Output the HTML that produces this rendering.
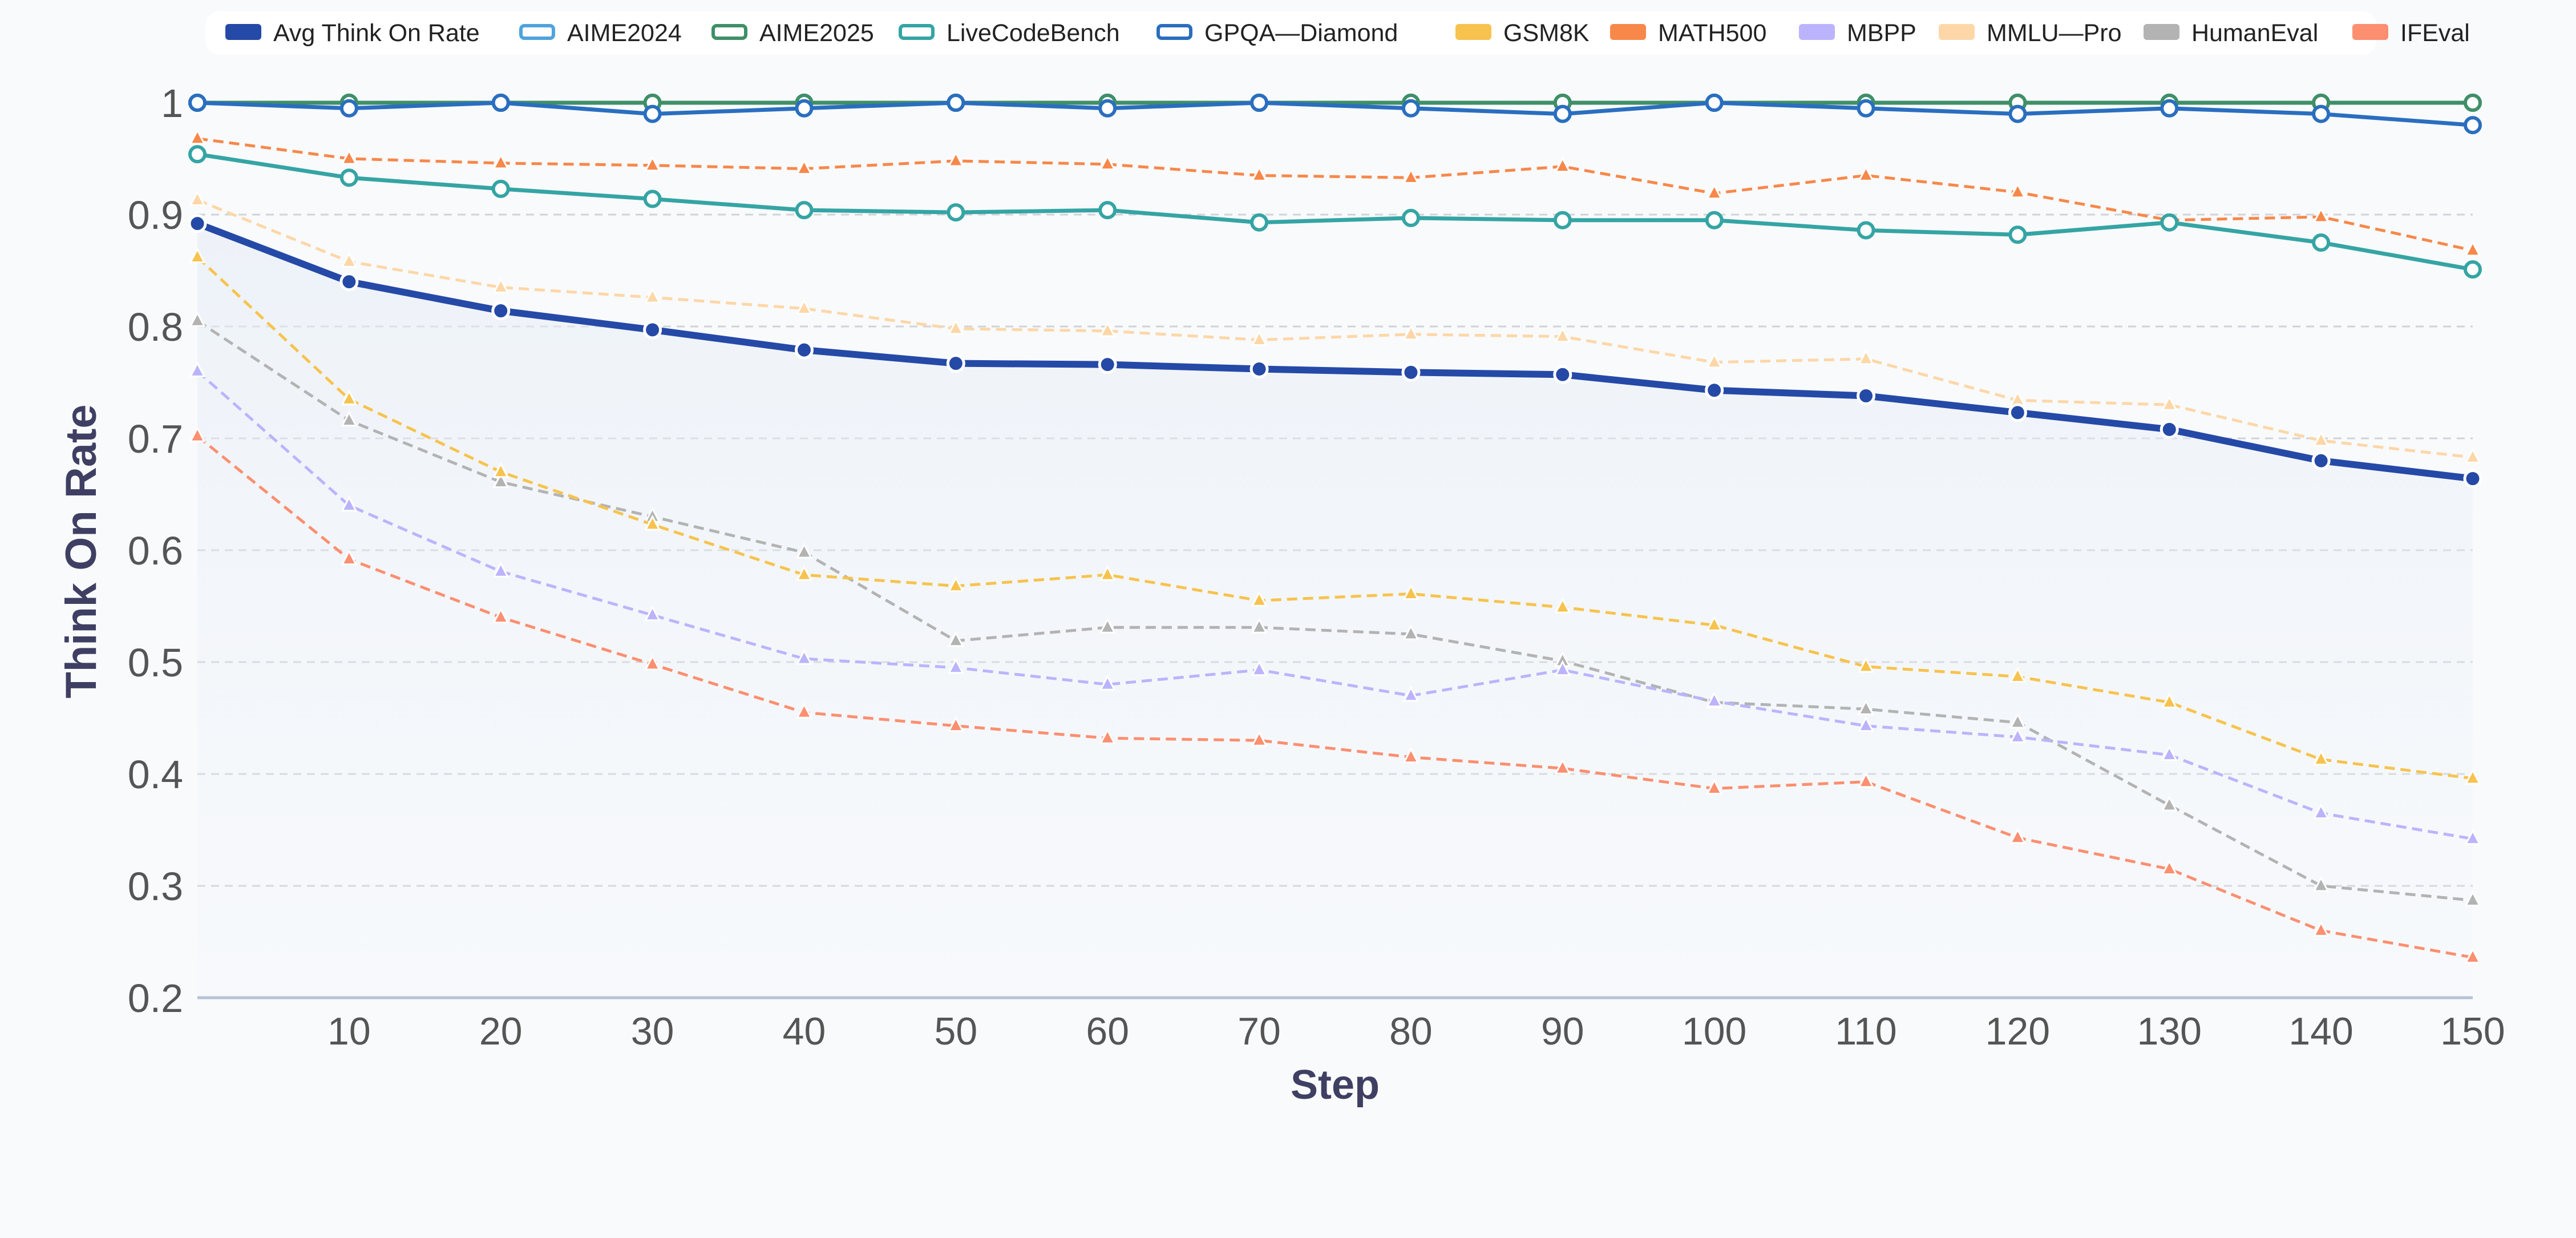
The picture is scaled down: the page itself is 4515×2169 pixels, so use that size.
<!DOCTYPE html>
<html><head><meta charset="utf-8"><style>
html,body{margin:0;padding:0;background:#f8fafc;}
svg{display:block;font-family:"Liberation Sans",sans-serif;}
</style></head><body>
<svg id="chart" width="4515" height="2169" viewBox="0 0 4515 2169" xmlns="http://www.w3.org/2000/svg">
<defs><linearGradient id="areaGrad" x1="0" y1="0" x2="0" y2="1"><stop offset="0" stop-color="#e6edf6" stop-opacity="0.6"/><stop offset="1" stop-color="#eef2f8" stop-opacity="0.1"/></linearGradient></defs>
<rect x="0" y="0" width="4515" height="2169" fill="#f8fafc"/>
<g id="grid"></g><g id="area"></g><g id="series"></g><g id="axes"></g><g id="legend"></g>
</svg>
<script>
const steps = [0,10,20,30,40,50,60,70,80,90,100,110,120,130,140,150];
const xTicks = [10,20,30,40,50,60,70,80,90,100,110,120,130,140,150];
const yTicks = [0.2,0.3,0.4,0.5,0.6,0.7,0.8,0.9,1];
const yTickLabels = ["0.2","0.3","0.4","0.5","0.6","0.7","0.8","0.9","1"];
const seriesNames = ["Avg Think On Rate","AIME2024","AIME2025","LiveCodeBench","GPQA—Diamond","GSM8K","MATH500","MBPP","MMLU—Pro","HumanEval","IFEval"];
const avgVals = [0.892,0.840,0.814,0.797,0.779,0.767,0.766,0.762,0.759,0.757,0.743,0.738,0.723,0.708,0.680,0.664];
const aime2024Vals = [1,1,1,1,1,1,1,1,1,1,1,1,1,1,1,1];
const aime2025Vals = [1,1,1,1,1,1,1,1,1,1,1,1,1,1,1,1];
const lcbVals = [0.954,0.933,0.923,0.914,0.904,0.902,0.904,0.893,0.897,0.895,0.895,0.886,0.882,0.893,0.875,0.851];
const gpqaVals = [1,0.995,1,0.99,0.995,1,0.995,1,0.995,0.99,1,0.995,0.99,0.995,0.99,0.98];
const gsm8kVals = [0.862,0.735,0.670,0.623,0.578,0.568,0.578,0.555,0.561,0.549,0.533,0.496,0.487,0.464,0.413,0.396];
const math500Vals = [0.968,0.950,0.946,0.944,0.941,0.948,0.945,0.935,0.933,0.943,0.919,0.935,0.920,0.895,0.898,0.868];
const mbppVals = [0.760,0.640,0.581,0.542,0.503,0.495,0.480,0.493,0.470,0.493,0.465,0.443,0.433,0.417,0.365,0.342];
const mmluVals = [0.913,0.858,0.835,0.826,0.816,0.798,0.796,0.788,0.793,0.791,0.768,0.771,0.734,0.730,0.698,0.683];
const humanEvalVals = [0.805,0.716,0.661,0.630,0.598,0.519,0.531,0.531,0.525,0.501,0.464,0.458,0.446,0.372,0.300,0.287];
const ifevalVals = [0.702,0.592,0.540,0.498,0.455,0.443,0.432,0.430,0.415,0.405,0.387,0.393,0.343,0.315,0.260,0.236];

const NS="http://www.w3.org/2000/svg";
const X0=346,X1=4334,Y0=1748,Y1=180;
const xs=v=>X0+(v-0)/(150-0)*(X1-X0);
const ys=v=>Y0-(v-0.2)/(1-0.2)*(Y0-Y1);
function mk(tag,attrs,parent){const e=document.createElementNS(NS,tag);for(const k in attrs)e.setAttribute(k,attrs[k]);parent.appendChild(e);return e;}
const grid=document.getElementById('grid'),area=document.getElementById('area'),ser=document.getElementById('series'),axes=document.getElementById('axes'),leg=document.getElementById('legend');

yTicks.forEach((t,i)=>{
  if(i>0){const l=mk('line',{x1:X0,x2:X1,y1:ys(t),y2:ys(t),stroke:'#d0d3d8','stroke-width':3,'stroke-dasharray':'14 10'},grid);
  
  }
  const tx=mk('text',{x:321,y:ys(t)+25,'text-anchor':'end','font-size':70,fill:'#555'},axes);
  tx.textContent=yTickLabels[i];
  
  
});
xTicks.forEach(t=>{
  const tx=mk('text',{x:xs(t),y:1830,'text-anchor':'middle','font-size':68,fill:'#555'},axes);
  tx.textContent=t;
  
  
});
const ax=mk('line',{x1:X0,x2:X1,y1:Y0,y2:Y0,stroke:'#b4c2d4','stroke-width':5},axes);


const xt=mk('text',{x:2340,y:1925,'text-anchor':'middle','font-size':72,'font-weight':'bold',fill:'#3f3f63'},axes);
xt.textContent='Step';


const yt=mk('text',{x:0,y:0,'text-anchor':'middle','font-size':76,'font-weight':'bold',fill:'#3f3f63',transform:'translate(168,966) rotate(-90)'},axes);
yt.textContent='Think On Rate';



let ad='M'+xs(steps[0])+','+Y0;
steps.forEach((s,i)=>{ad+=' L'+xs(s)+','+ys(avgVals[i]);});
ad+=' L'+xs(steps[steps.length-1])+','+Y0+' Z';
const ar=mk('path',{d:ad,fill:'url(#areaGrad)'},area);



const cfg=[
 {vals:ifevalVals,color:'#fb8f70',type:'dash',name:'ifeval'},
 {vals:humanEvalVals,color:'#b3b3b3',type:'dash',name:'humaneval'},
 {vals:mmluVals,color:'#fdd7a8',type:'dash',name:'mmlu-pro'},
 {vals:mbppVals,color:'#bbb4fc',type:'dash',name:'mbpp'},
 {vals:math500Vals,color:'#f7884a',type:'dash',name:'math500'},
 {vals:gsm8kVals,color:'#f7c34e',type:'dash',name:'gsm8k'},
 {vals:lcbVals,color:'#35a4a4',type:'solid',name:'livecodebench'},
 {vals:aime2024Vals,color:'#4ea3dc',type:'solid',name:'aime2024'},
 {vals:aime2025Vals,color:'#3f8f67',type:'solid',name:'aime2025'},
 {vals:gpqaVals,color:'#2a6ebf',type:'solid',name:'gpqa-diamond'},
 {vals:avgVals,color:'#2549a6',type:'avg',name:'avg-think-on-rate'}
];
cfg.forEach(c=>{
  const g=mk('g',{},ser);
  
  
  const pts=steps.map((s,i)=>xs(s)+','+ys(c.vals[i])).join(' ');
  const sw=c.type==='avg'?12:(c.type==='solid'?7:5);
  const pl=mk('polyline',{points:pts,fill:'none',stroke:c.color,'stroke-width':sw,'stroke-linejoin':'round'},g);
  if(c.type==='dash')pl.setAttribute('stroke-dasharray','18 10');
  
  
  steps.forEach((s,i)=>{
    const x=xs(s),y=ys(c.vals[i]);let m;
    if(c.type==='dash'){
      m=mk('path',{d:`M${x},${y-14} L${x+12},${y+9} L${x-12},${y+9} Z`,fill:c.color,stroke:'#fff','stroke-width':3},g);
    }else if(c.type==='avg'){
      m=mk('circle',{cx:x,cy:y,r:14,fill:c.color,stroke:'#fff','stroke-width':5},g);
    }else{
      m=mk('circle',{cx:x,cy:y,r:13,fill:'#fff',stroke:c.color,'stroke-width':6},g);
    }
    
    
  });
});

const lb=mk('rect',{x:360,y:20,width:3805,height:76,rx:24,fill:'#fff'},leg);


const legColors=['#2549a6','#4ea3dc','#3f8f67','#35a4a4','#2a6ebf','#f7c34e','#f7884a','#bbb4fc','#fdd7a8','#b3b3b3','#fb8f70'];
const legHollow=[false,true,true,true,true,false,false,false,false,false,false];
const legX=[395,910,1247,1575,2027,2551,2822,3153,3398,3757,4123];
seriesNames.forEach((n,i)=>{
  const g=mk('g',{},leg);
  
  
  const x=legX[i];
  const r=mk('rect',legHollow[i]?{x:x+3,y:45,width:57,height:22,rx:6,fill:'#fff',stroke:legColors[i],'stroke-width':6}:{x:x,y:42,width:63,height:28,rx:6,fill:legColors[i]},g);
  
  
  const t=mk('text',{x:x+84,y:72,'font-size':43,fill:'#222','font-family':'"Liberation Sans","Noto Sans CJK SC",sans-serif'},g);
  t.textContent=n;
  
  
});
</script>
</body></html>
